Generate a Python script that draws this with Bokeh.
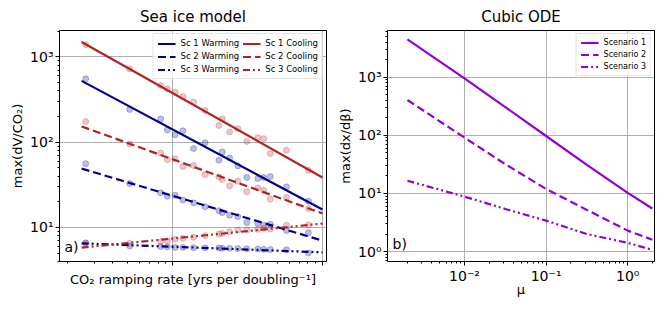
from bokeh.plotting import figure
from bokeh.layouts import row
from bokeh.models import (Range1d, FixedTicker, CustomJSTickFormatter, Legend, LegendItem, Label)
from bokeh.embed import file_html
from bokeh.resources import INLINE

# ---------------- data: Sea ice model ----------------
rate_pts = [0.0263, 0.0517, 0.0832, 0.0922, 0.1039, 0.1171, 0.138, 0.1647, 0.2035, 0.2145,
            0.2399, 0.2724, 0.3128, 0.3703, 0.4055, 0.4487, 0.5754, 0.8065]
sc1_cool_pts = [1393, 724, 462, 422, 386, 343, 295, 235, 157, 188, 132, 144, 102, 113, 110, 73.4, 80.2, 46.8]
sc1_warm_pts = [553, 242, 187, 139, 122, 136, 84, 98.6, 61.2, 76.8, 65.3, 52.7, 38.5, 37.4, 38.5, 39.5, 29.9, 20.3]
sc2_cool_pts = [175, 95, 74.8, 62.4, 64.1, 51.7, 53.1, 41.7, 39.2, 36.4, 30.7, 34.8, 26.2, 29.0, 27.3, 21.5, 22.4, 16.7]
sc2_warm_pts = [56.0, 32.7, 25.5, 23.2, 23.9, 20.9, 19.4, 17.5, 15.7, 14.9, 13.9, 13.4, 11.4, 11.1, 10.6, 10.9, 9.2, 8.67]
sc3_cool_pts = [6.5, 6.5, 6.81, 6.95, 7.24, 7.44, 7.64, 8.0, 8.35, 8.51, 8.91, 9.3, 9.3, 9.48, 9.73, 9.6, 10.6, 10.7]
sc3_warm_pts = [6.59, 6.04, 5.95, 5.91, 5.83, 5.83, 5.79, 5.76, 5.73, 5.68, 5.68, 5.64, 5.6, 5.57, 5.53, 5.5, 5.45, 5.0]

fit_x = [0.0247, 1.0]
sc1_cool_fit = [1496, 38.5]
sc1_warm_fit = [524, 16.2]
sc2_cool_fit = [153, 14.6]
sc2_warm_fit = [49, 7.0]
sc3_cool_fit = [5.78, 11.1]
sc3_warm_fit = [6.5, 5.1]

left_x_ticks = [0.1, 1.0]
left_x_minor = [0.02, 0.03, 0.04, 0.05, 0.06, 0.07, 0.08, 0.09, 0.2, 0.3, 0.4, 0.5, 0.6, 0.7, 0.8, 0.9]
left_y_ticks = [10, 100, 1000]
left_y_labels = ["10¹", "10²", "10³"]

# ---------------- data: Cubic ODE ----------------
mu = [0.002, 0.01, 0.0316, 0.1, 0.316, 1.0, 2.0]
scen1 = [4440, 950, 305, 97, 31, 10.2, 5.5]
scen2 = [403, 91, 31.8, 11.9, 5.2, 2.29, 1.6]
scen3 = [16.5, 8.8, 5.4, 3.4, 2.0, 1.41, 1.07]

right_x_ticks = [0.01, 0.1, 1.0]
right_x_labels = ["10⁻²", "10⁻¹", "10⁰"]
right_y_ticks = [1, 10, 100, 1000]
right_y_labels = ["10⁰", "10¹", "10²", "10³"]

BLUE = "#00008b"
RED = "#b22222"
PURPLE = "#9400d3"
FONT = "DejaVu Sans"
DASH = "8 4"
DASHDOT = "7 3 2 3 2 3"


def minor_decades(lo_exp, hi_exp):
    out = []
    for e in range(lo_exp, hi_exp + 1):
        for m in range(2, 10):
            out.append(m * 10.0 ** e)
    return out


def fmt(vals, labs):
    return CustomJSTickFormatter(args=dict(vals=vals, labs=labs), code="""
        for (let i = 0; i < vals.length; i++) {
            if (Math.abs(vals[i] - tick) <= 1e-6 * Math.abs(vals[i])) return labs[i];
        }
        return '';
    """)


def style(p):
    p.title.text_font = FONT
    p.title.text_font_size = "15px"
    p.title.text_font_style = "normal"
    p.title.align = "center"
    p.title.text_color = "black"
    p.outline_line_color = "black"
    p.outline_line_width = 1
    p.outline_line_alpha = 1
    p.background_fill_color = "white"
    p.border_fill_color = "white"
    for ax in (p.xaxis[0], p.yaxis[0]):
        ax.axis_line_color = None
        ax.major_tick_out = 4
        ax.major_tick_in = 0
        ax.minor_tick_out = 2
        ax.minor_tick_in = 0
        ax.major_tick_line_color = "black"
        ax.minor_tick_line_color = "black"
        ax.major_label_text_font = FONT
        ax.major_label_text_font_size = "14px"
        ax.major_label_text_color = "black"
        ax.major_label_standoff = 2
        ax.axis_label_text_font = FONT
        ax.axis_label_text_font_size = "13px"
        ax.axis_label_text_font_style = "normal"
        ax.axis_label_text_color = "black"
        ax.axis_label_standoff = 2
    p.xgrid.grid_line_color = "#b0b0b0"
    p.ygrid.grid_line_color = "#b0b0b0"
    p.xgrid.grid_line_width = 1
    p.ygrid.grid_line_width = 1


# ---------------- left panel ----------------
p1 = figure(frame_width=267, frame_height=231, x_axis_type="log", y_axis_type="log",
            x_range=Range1d(10 ** -1.755, 10 ** 0.027), y_range=Range1d(10 ** 0.60, 10 ** 3.31),
            title="Sea ice model", output_backend="svg", toolbar_location=None,
            min_border_left=59, min_border_right=9, min_border_top=19, min_border_bottom=43)
style(p1)
p1.xaxis.ticker = FixedTicker(ticks=left_x_ticks, minor_ticks=left_x_minor)
p1.xaxis.formatter = fmt(left_x_ticks, ["", ""])
p1.xaxis.major_label_text_font_size = "0px"
p1.xaxis.major_label_standoff = 0
p1.xaxis.axis_label_standoff = 6
p1.xaxis.axis_label = "CO₂ ramping rate [yrs per doubling⁻¹]"
p1.yaxis.ticker = FixedTicker(ticks=left_y_ticks, minor_ticks=minor_decades(0, 3))
p1.yaxis.formatter = fmt(left_y_ticks, left_y_labels)
p1.yaxis.axis_label = "max(dV/CO₂)"

series = [
    (sc1_warm_pts, sc1_warm_fit, BLUE, None, "Sc 1 Warming"),
    (sc2_warm_pts, sc2_warm_fit, BLUE, DASH, "Sc 2 Warming"),
    (sc3_warm_pts, sc3_warm_fit, BLUE, DASHDOT, "Sc 3 Warming"),
    (sc1_cool_pts, sc1_cool_fit, RED, None, "Sc 1 Cooling"),
    (sc2_cool_pts, sc2_cool_fit, RED, DASH, "Sc 2 Cooling"),
    (sc3_cool_pts, sc3_cool_fit, RED, DASHDOT, "Sc 3 Cooling"),
]
items1 = []
for pts, fit, col, dash, lab in series:
    p1.scatter(rate_pts, pts, size=6, color=col, alpha=0.25, line_alpha=0.25)
for pts, fit, col, dash, lab in series:
    kw = dict(line_color=col, line_width=2.2)
    if dash:
        kw["line_dash"] = dash
    r = p1.line(fit_x, fit, **kw)
    items1.append(LegendItem(label=lab, renderers=[r]))

leg1 = Legend(items=items1, location="top_right", ncols=2)
p1.add_layout(leg1)
p1.add_layout(Label(x=5, y=7, x_units="screen", y_units="screen", text="a)",
                    text_font=FONT, text_font_size="14px", text_color="black"))

# ---------------- right panel ----------------
p2 = figure(frame_width=267, frame_height=231, x_axis_type="log", y_axis_type="log",
            x_range=Range1d(10 ** -2.943, 10 ** 0.328), y_range=Range1d(10 ** -0.171, 10 ** 3.80),
            title="Cubic ODE", output_backend="svg", toolbar_location=None,
            min_border_left=49, min_border_right=2, min_border_top=21, min_border_bottom=41)
style(p2)
p2.xaxis.ticker = FixedTicker(ticks=right_x_ticks, minor_ticks=minor_decades(-3, 0))
p2.xaxis.formatter = fmt(right_x_ticks, right_x_labels)
p2.xaxis.axis_label_standoff = -5
p2.yaxis.ticker = FixedTicker(ticks=right_y_ticks, minor_ticks=minor_decades(-1, 3))
p2.yaxis.formatter = fmt(right_y_ticks, right_y_labels)
p2.xaxis.axis_label = "μ"
p2.yaxis.axis_label = "max(dx/dβ)"

items2 = []
for ys, dash, lab in [(scen1, None, "Scenario 1"), (scen2, DASH, "Scenario 2"), (scen3, DASHDOT, "Scenario 3")]:
    kw = dict(line_color=PURPLE, line_width=2.2)
    if dash:
        kw["line_dash"] = dash
    r = p2.line(mu, ys, **kw)
    items2.append(LegendItem(label=lab, renderers=[r]))
leg2 = Legend(items=items2, location="top_right")
p2.add_layout(leg2)
p2.add_layout(Label(x=5, y=10, x_units="screen", y_units="screen", text="b)",
                    text_font=FONT, text_font_size="14px", text_color="black"))

for leg, fs in ((leg1, "8.5px"), (leg2, "8px")):
    leg.label_text_font = FONT
    leg.label_text_font_size = fs
    leg.label_text_color = "black"
    leg.label_height = 9
    leg.glyph_height = 9
    leg.glyph_width = 18
    leg.label_standoff = 5
    leg.spacing = 3
    leg.padding = 4
    leg.margin = 3
    leg.border_line_color = "#cccccc"
    leg.background_fill_alpha = 0.85

layout = row(p1, p2)
open("out.html", "w").write(file_html(layout, INLINE))
